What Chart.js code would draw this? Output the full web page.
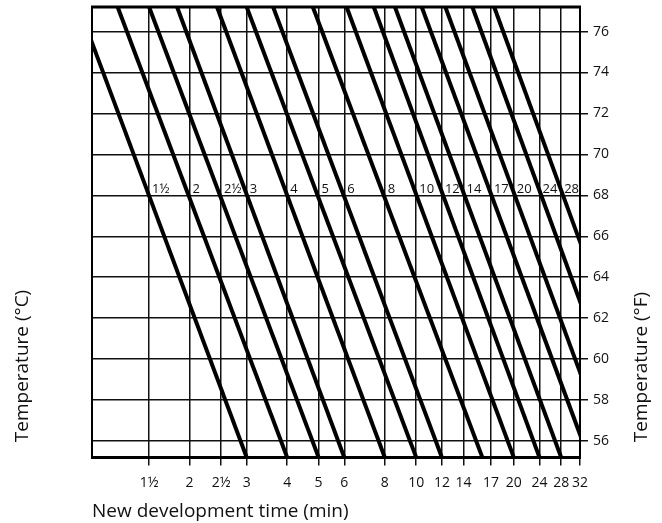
<!DOCTYPE html>
<html>
<head>
<meta charset="utf-8">
<script src="https://cdn.jsdelivr.net/npm/chart.js@4/dist/chart.umd.min.js"></script>
<style>
html,body{margin:0;padding:0;background:#fff;}
</style>
</head>
<body>
<canvas id="chart" width="662" height="523"></canvas>
<script>
// development time at 68°F, one line each
const times68 = [1.5, 2, 2.5, 3, 4, 5, 6, 8, 10, 12, 14, 17, 20, 24, 28];
const timeLabels = ['1½','2','2½','3','4','5','6','8','10','12','14','17','20','24','28'];
// where each line meets the top edge and the bottom edge of the grid
const timesTop = [0.91, 1.2, 1.5, 1.83, 2.43, 3.0, 3.62, 4.8, 6.1, 7.4, 8.6, 10.4, 12.3, 14.9, 17.4];
const timesBottom = [3, 4, 5, 6, 8, 10, 12, 16, 20, 24, 28, 34, 40, 48, 56];
const tempTop = 77.2;
const tempBottom = 55.2;
const labelTemp = 68;

const xTicks = [1.5, 2, 2.5, 3, 4, 5, 6, 8, 10, 12, 14, 17, 20, 24, 28, 32];
const xTickLabels = ['1½','2','2½','3','4','5','6','8','10','12','14','17','20','24','28','32'];
const yTicks = [56, 58, 60, 62, 64, 66, 68, 70, 72, 74, 76];

Chart.defaults.font.family = '"Open Sans", sans-serif';
Chart.defaults.color = '#111';

const extras = {
    id: 'extras',
    afterDatasetsDraw(chart){
        const {ctx, chartArea: a, scales: {x, y}} = chart;
        ctx.save();

        // line labels along 68°F
        ctx.font = '13px "Open Sans"';
        ctx.fillStyle = '#111';
        ctx.textAlign = 'left';
        ctx.textBaseline = 'bottom';
        const yy = y.getPixelForValue(labelTemp);
        times68.forEach((t, i) => {
            ctx.fillText(timeLabels[i], x.getPixelForValue(t) + 3, yy);
        });

        // frame
        ctx.strokeStyle = '#000';
        ctx.lineWidth = 3;
        ctx.beginPath();
        ctx.moveTo(a.left - 1, a.top); ctx.lineTo(a.right + 1, a.top);
        ctx.moveTo(a.left - 1, a.bottom); ctx.lineTo(a.right + 1, a.bottom);
        ctx.stroke();
        ctx.lineWidth = 2;
        ctx.beginPath();
        ctx.moveTo(a.left, a.top); ctx.lineTo(a.left, a.bottom);
        ctx.moveTo(a.right, a.top); ctx.lineTo(a.right, a.bottom);
        ctx.stroke();

        // side titles
        ctx.font = '19px "Open Sans"';
        ctx.textAlign = 'center';
        ctx.textBaseline = 'middle';
        ctx.save();
        ctx.translate(23, 366);
        ctx.rotate(-Math.PI / 2);
        ctx.fillText('Temperature (°C)', 0, 0);
        ctx.restore();
        ctx.save();
        ctx.translate(642, 367);
        ctx.rotate(-Math.PI / 2);
        ctx.fillText('Temperature (°F)', 0, 0);
        ctx.restore();

        ctx.restore();
    }
};

new Chart(document.getElementById('chart'), {
    type: 'line',
    data: {
        datasets: times68.map((t, i) => ({
            label: timeLabels[i],
            data: [{x: timesTop[i], y: tempTop}, {x: timesBottom[i], y: tempBottom}],
            borderColor: '#000',
            borderWidth: 4,
            pointRadius: 0,
            fill: false,
            tension: 0
        }))
    },
    options: {
        responsive: false,
        animation: false,
        devicePixelRatio: 1,
        layout: { padding: { left: 92, right: 48, top: 7, bottom: 0 } },
        plugins: {
            legend: { display: false },
            tooltip: { enabled: false }
        },
        scales: {
            x: {
                type: 'logarithmic',
                min: 1,
                max: 32,
                afterBuildTicks: s => { s.ticks = xTicks.map(v => ({value: v})); },
                afterFit: s => { s.paddingLeft = 0; s.paddingRight = 0; },
                ticks: {
                    callback: (v, i) => xTickLabels[i],
                    autoSkip: false,
                    maxRotation: 0,
                    padding: 9,
                    font: { size: 14 }
                },
                grid: { color: '#111', lineWidth: 1.5, tickLength: 8 },
                border: { display: false },
                title: {
                    display: true,
                    text: 'New development time (min)',
                    align: 'start',
                    font: { size: 19 },
                    padding: 0
                }
            },
            y: {
                type: 'linear',
                position: 'right',
                min: 55.2,
                max: 77.2,
                afterBuildTicks: s => { s.ticks = yTicks.map(v => ({value: v})); },
                afterFit: s => { s.paddingTop = 0; s.paddingBottom = 0; },
                ticks: { padding: 5, font: { size: 14 } },
                grid: { color: '#111', lineWidth: 1.5, tickLength: 8 },
                border: { display: false }
            }
        }
    },
    plugins: [extras]
});
</script>
</body>
</html>
